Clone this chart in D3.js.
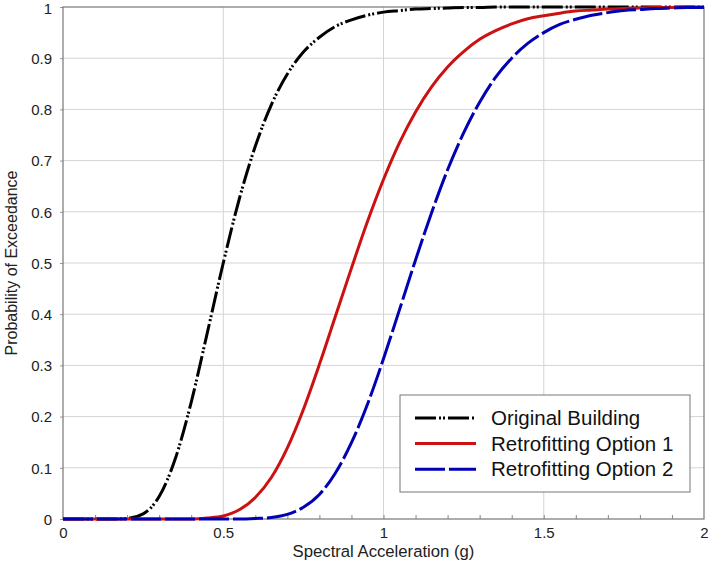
<!DOCTYPE html>
<html>
<head>
<meta charset="utf-8">
<title>Fragility curves</title>
<script src="https://cdn.jsdelivr.net/npm/d3@7"></script>
<style>
  body { margin: 0; background: #fff; }
  svg { display: block; font-family: "Liberation Sans", Arial, sans-serif; }
</style>
</head>
<body>
<div id="chart"></div>
<script>
// spectral acceleration (g)
const saValues = [0, 0.05, 0.10, 0.15, 0.20, 0.25, 0.30, 0.35, 0.40, 0.45,
                  0.50, 0.55, 0.60, 0.65, 0.70, 0.75, 0.80, 0.85, 0.90, 0.95,
                  1.00, 1.05, 1.10, 1.15, 1.20, 1.25, 1.30, 1.35, 1.40, 1.45,
                  1.50, 1.55, 1.60, 1.65, 1.70, 1.75, 1.80, 1.85, 1.90, 1.95, 2.00];

// probability of exceedance
const originalBuilding = [0, 0, 0, 0, 0.001, 0.010, 0.044, 0.117, 0.228, 0.363,
                          0.500, 0.625, 0.728, 0.809, 0.869, 0.912, 0.941, 0.962, 0.975, 0.984,
                          0.990, 0.993, 0.996, 0.997, 0.998, 0.999, 0.999, 1, 1, 1,
                          1, 1, 1, 1, 1, 1, 1, 1, 1, 1, 1];
const retrofitOption1 = [0, 0, 0, 0, 0, 0, 0, 0, 0, 0.002,
                         0.006, 0.018, 0.042, 0.081, 0.139, 0.214, 0.302, 0.396, 0.490, 0.581,
                         0.663, 0.735, 0.795, 0.844, 0.883, 0.913, 0.937, 0.954, 0.967, 0.977,
                         0.983, 0.988, 0.992, 0.994, 0.996, 0.997, 0.998, 0.999, 0.999, 1, 1];
const retrofitOption2 = [0, 0, 0, 0, 0, 0, 0, 0, 0, 0,
                         0, 0, 0.001, 0.003, 0.009, 0.023, 0.048, 0.090, 0.149, 0.224,
                         0.313, 0.409, 0.506, 0.598, 0.682, 0.754, 0.814, 0.863, 0.900, 0.929,
                         0.950, 0.966, 0.976, 0.984, 0.989, 0.993, 0.995, 0.997, 0.998, 0.999, 0.999];

const seriesNames = ["Original Building", "Retrofitting Option 1", "Retrofitting Option 2"];
const xTicks = [0, 0.5, 1, 1.5, 2];
const yTicks = [0, 0.1, 0.2, 0.3, 0.4, 0.5, 0.6, 0.7, 0.8, 0.9, 1];

const width = 708, height = 567;
const margin = {top: 7, right: 4, bottom: 48, left: 63};

const svg = d3.select("#chart").append("svg")
    .attr("width", width)
    .attr("height", height);

const x = d3.scaleLinear().domain([0, 2]).range([margin.left, width - margin.right]);
const y = d3.scaleLinear().domain([0, 1]).range([height - margin.bottom, margin.top]);

// grid
svg.append("g")
    .selectAll("line.gy")
    .data(yTicks.slice(1, -1))
    .join("line")
    .attr("x1", x(0)).attr("x2", x(2))
    .attr("y1", d => y(d)).attr("y2", d => y(d))
    .attr("stroke", "#d4d4d4").attr("stroke-width", 1);

svg.append("g")
    .selectAll("line.gx")
    .data(xTicks.slice(1, -1))
    .join("line")
    .attr("x1", d => x(d)).attr("x2", d => x(d))
    .attr("y1", y(0)).attr("y2", y(1))
    .attr("stroke", "#d4d4d4").attr("stroke-width", 1);

// minor ticks along the bottom
svg.append("g")
    .attr("transform", `translate(0,${y(0)})`)
    .call(d3.axisBottom(x).tickValues(d3.range(1, 20).map(i => i / 10)).tickSize(-4).tickFormat(""))
    .call(g => g.select(".domain").remove())
    .call(g => g.selectAll("line").attr("stroke", "#888"));

// axes
const xAxis = svg.append("g")
    .attr("transform", `translate(0,${y(0)})`)
    .call(d3.axisBottom(x).tickValues(xTicks).tickSize(0).tickPadding(8).tickFormat(d3.format("")));
xAxis.select(".domain").remove();
xAxis.selectAll("text").attr("font-size", 15).attr("fill", "#222").attr("font-family", null);

const yAxis = svg.append("g")
    .attr("transform", `translate(${x(0)},0)`)
    .call(d3.axisLeft(y).tickValues(yTicks).tickSize(3).tickPadding(8).tickFormat(d3.format("")));
yAxis.select(".domain").remove();
yAxis.selectAll("line").attr("stroke", "#999");
yAxis.selectAll("text").attr("font-size", 15).attr("fill", "#222").attr("font-family", null)
    .attr("dy", d => d === 1 ? "0.45em" : "0.35em");

// frame
svg.append("rect")
    .attr("x", x(0)).attr("y", y(1))
    .attr("width", x(2) - x(0)).attr("height", y(0) - y(1))
    .attr("fill", "none").attr("stroke", "#777").attr("stroke-width", 1.2);

// curves
const series = [
  {name: seriesNames[0], values: originalBuilding, color: "#000000", dash: "21,3,2,2,2,3"},
  {name: seriesNames[1], values: retrofitOption1, color: "#cc1111", dash: null},
  {name: seriesNames[2], values: retrofitOption2, color: "#0000b4", dash: "30,4"}
];

const line = d3.line()
    .x((d, i) => x(saValues[i]))
    .y(d => y(d))
    .curve(d3.curveMonotoneX);

svg.append("g")
    .selectAll("path")
    .data(series)
    .join("path")
    .attr("d", d => line(d.values))
    .attr("fill", "none")
    .attr("stroke", d => d.color)
    .attr("stroke-width", 3)
    .attr("stroke-dasharray", d => d.dash);

// legend
const legend = svg.append("g").attr("transform", "translate(400,395)");
legend.append("rect")
    .attr("width", 290).attr("height", 97)
    .attr("fill", "#fff").attr("stroke", "#777").attr("stroke-width", 1);

const item = legend.selectAll("g.item")
    .data(series)
    .join("g")
    .attr("transform", (d, i) => `translate(0,${23 + i * 25.6})`);
item.append("line")
    .attr("x1", 15).attr("x2", 76)
    .attr("stroke", d => d.color)
    .attr("stroke-width", 3)
    .attr("stroke-dasharray", d => d.dash);
item.append("text")
    .attr("x", 91).attr("dy", "0.35em")
    .attr("font-size", 20.5).attr("fill", "#111")
    .text(d => d.name);

// axis titles
svg.append("text")
    .attr("x", (x(0) + x(2)) / 2).attr("y", 557)
    .attr("text-anchor", "middle").attr("font-size", 16.7).attr("fill", "#222")
    .text("Spectral Acceleration (g)");

svg.append("text")
    .attr("transform", `translate(17,${(y(0) + y(1)) / 2}) rotate(-90)`)
    .attr("text-anchor", "middle").attr("font-size", 16).attr("fill", "#222")
    .text("Probability of Exceedance");
</script>
</body>
</html>
